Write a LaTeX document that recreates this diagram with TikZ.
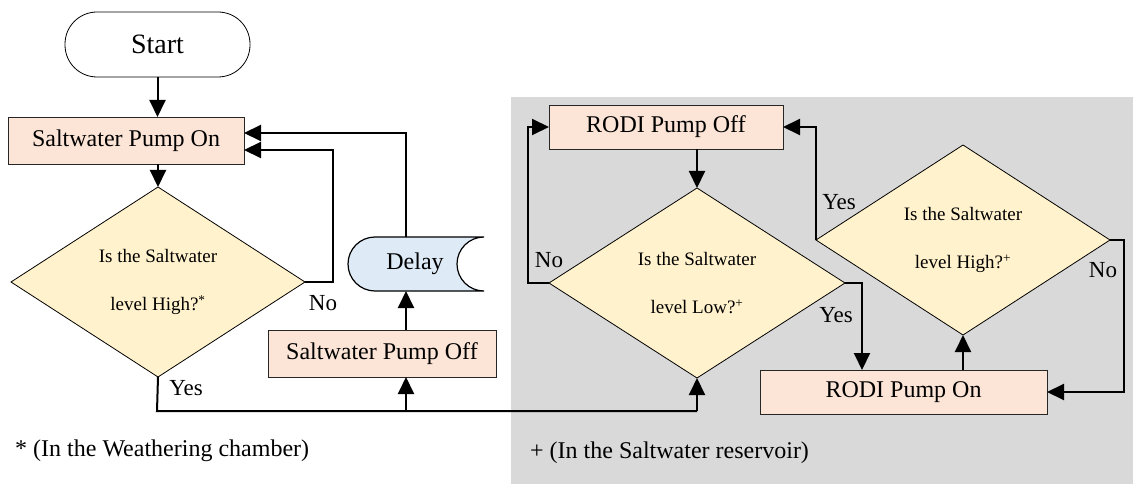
\documentclass[tikz,border=0pt]{standalone}
\usepackage{fontspec}
\setmainfont{Liberation Serif}
\usetikzlibrary{shapes.geometric,arrows.meta}
\definecolor{pumpc}{RGB}{252,228,214}
\definecolor{decc}{RGB}{255,242,204}
\definecolor{delayc}{RGB}{222,235,247}
\definecolor{bgc}{RGB}{217,217,217}
\begin{document}
\begin{tikzpicture}[x=1pt,y=-1pt,
 conn/.style={line width=2pt, -{Triangle[length=17pt,width=16pt]}},
 wire/.style={line width=2pt},
 pump/.style={draw=black!85, line width=0.8pt, fill=pumpc, font=\fontsize{24}{28}\selectfont, inner sep=0pt, outer sep=0pt},
 dec/.style={diamond, shape aspect=1.55, draw, line width=0.8pt, fill=decc, minimum width=294pt, minimum height=190pt, align=center, font=\fontsize{19}{48}\selectfont, inner sep=0pt, outer sep=0pt},
 lbl/.style={font=\fontsize{23}{27}\selectfont, inner sep=0pt},
 note/.style={font=\fontsize{24}{28}\selectfont, inner sep=0pt, anchor=west}]
\useasboundingbox (0,0) rectangle (1133,484);
\fill[bgc] (511,97) rectangle (1133,484);

% nodes
\node[draw, line width=0.8pt, fill=white, rounded corners=32pt, minimum width=185pt, minimum height=65pt, inner sep=0pt, outer sep=0pt, font=\fontsize{28}{32}\selectfont] (start) at (157.5,44.5) {Start};
\node[pump, minimum width=236pt, minimum height=47pt] (spon) at (126,140.5) {Saltwater Pump On};
\node[dec] (d1) at (158,282) {Is the Saltwater\\level High?\textsuperscript{*}};
\node[pump, minimum width=228pt, minimum height=47pt] (spoff) at (382,353.5) {Saltwater Pump Off};

% delay shape
\filldraw[draw=black, line width=1.2pt, fill=delayc] (484,237) -- (375,237) arc[start angle=270,end angle=90,radius=27] -- (484,291) arc[start angle=90,end angle=270,radius=27] -- cycle;
\node[font=\fontsize{24}{28}\selectfont, inner sep=0pt] (delay) at (415,264) {Delay};
\coordinate (delaytop) at (406,237);
\coordinate (delaybot) at (406,291);

\node[pump, minimum width=234pt, minimum height=44pt] (rpoff) at (666,127) {RODI Pump Off};
\node[dec, minimum width=296pt] (d2) at (697,283) {Is the Saltwater\\level Low?\textsuperscript{+}};
\node[dec] (d3) at (963,240) {Is the Saltwater\\level High?\textsuperscript{+}};
\node[pump, minimum width=287pt, minimum height=44pt] (rpon) at (903.5,392) {RODI Pump On};

% helper coordinates
\coordinate (n1) at (333,282);
\coordinate (n1t) at (333,150);
\coordinate (dl) at (406,133);
\coordinate (yb) at (157,411);
\coordinate (yj) at (406,411);
\coordinate (yr) at (697,411);
\coordinate (n2) at (528,283);
\coordinate (y2) at (862,283);
\coordinate (n3) at (1124,240);

% connectors
\draw[conn] (start.south) -- (start.south |- spon.north);
\draw[conn] (d1.north |- spon.south) -- (d1.north);
\draw[conn] (d1.east) -- (n1) -- (n1t) -- (spon.east |- n1t);
\draw[conn] (delaytop) -- (dl) -- (spon.east |- dl);
\draw[conn] (spoff.north -| delaybot) -- (delaybot);
\draw[wire] (d1.south) -- (yb) -- (yr);
\draw[conn] (yr) -- (d2.south);
\draw[conn] (yj) -- (spoff.south -| yj);
\draw[conn] (d2.north |- rpoff.south) -- (d2.north);
\draw[conn] (d2.west) -- (n2) |- (rpoff.west);
\draw[conn] (d3.west) |- (rpoff.east);
\draw[conn] (d2.east) -- (y2) -- (y2 |- rpon.north);
\draw[conn] (d3.south |- rpon.north) -- (d3.south);
\draw[conn] (d3.east) -- (n3) |- (rpon.east);

% labels
\node[lbl] (l1) at (323,303) {No};
\node[lbl] (l2) at (186,388) {Yes};
\node[lbl] (l3) at (549,260) {No};
\node[lbl] (l4) at (836,315) {Yes};
\node[lbl] (l5) at (839,202) {Yes};
\node[lbl] (l6) at (1103,270) {No};

\node[note] (f1) at (15,451) {* (In the Weathering chamber)};
\node[note] (f2) at (530,453) {+ (In the Saltwater reservoir)};
\end{tikzpicture}
\end{document}
